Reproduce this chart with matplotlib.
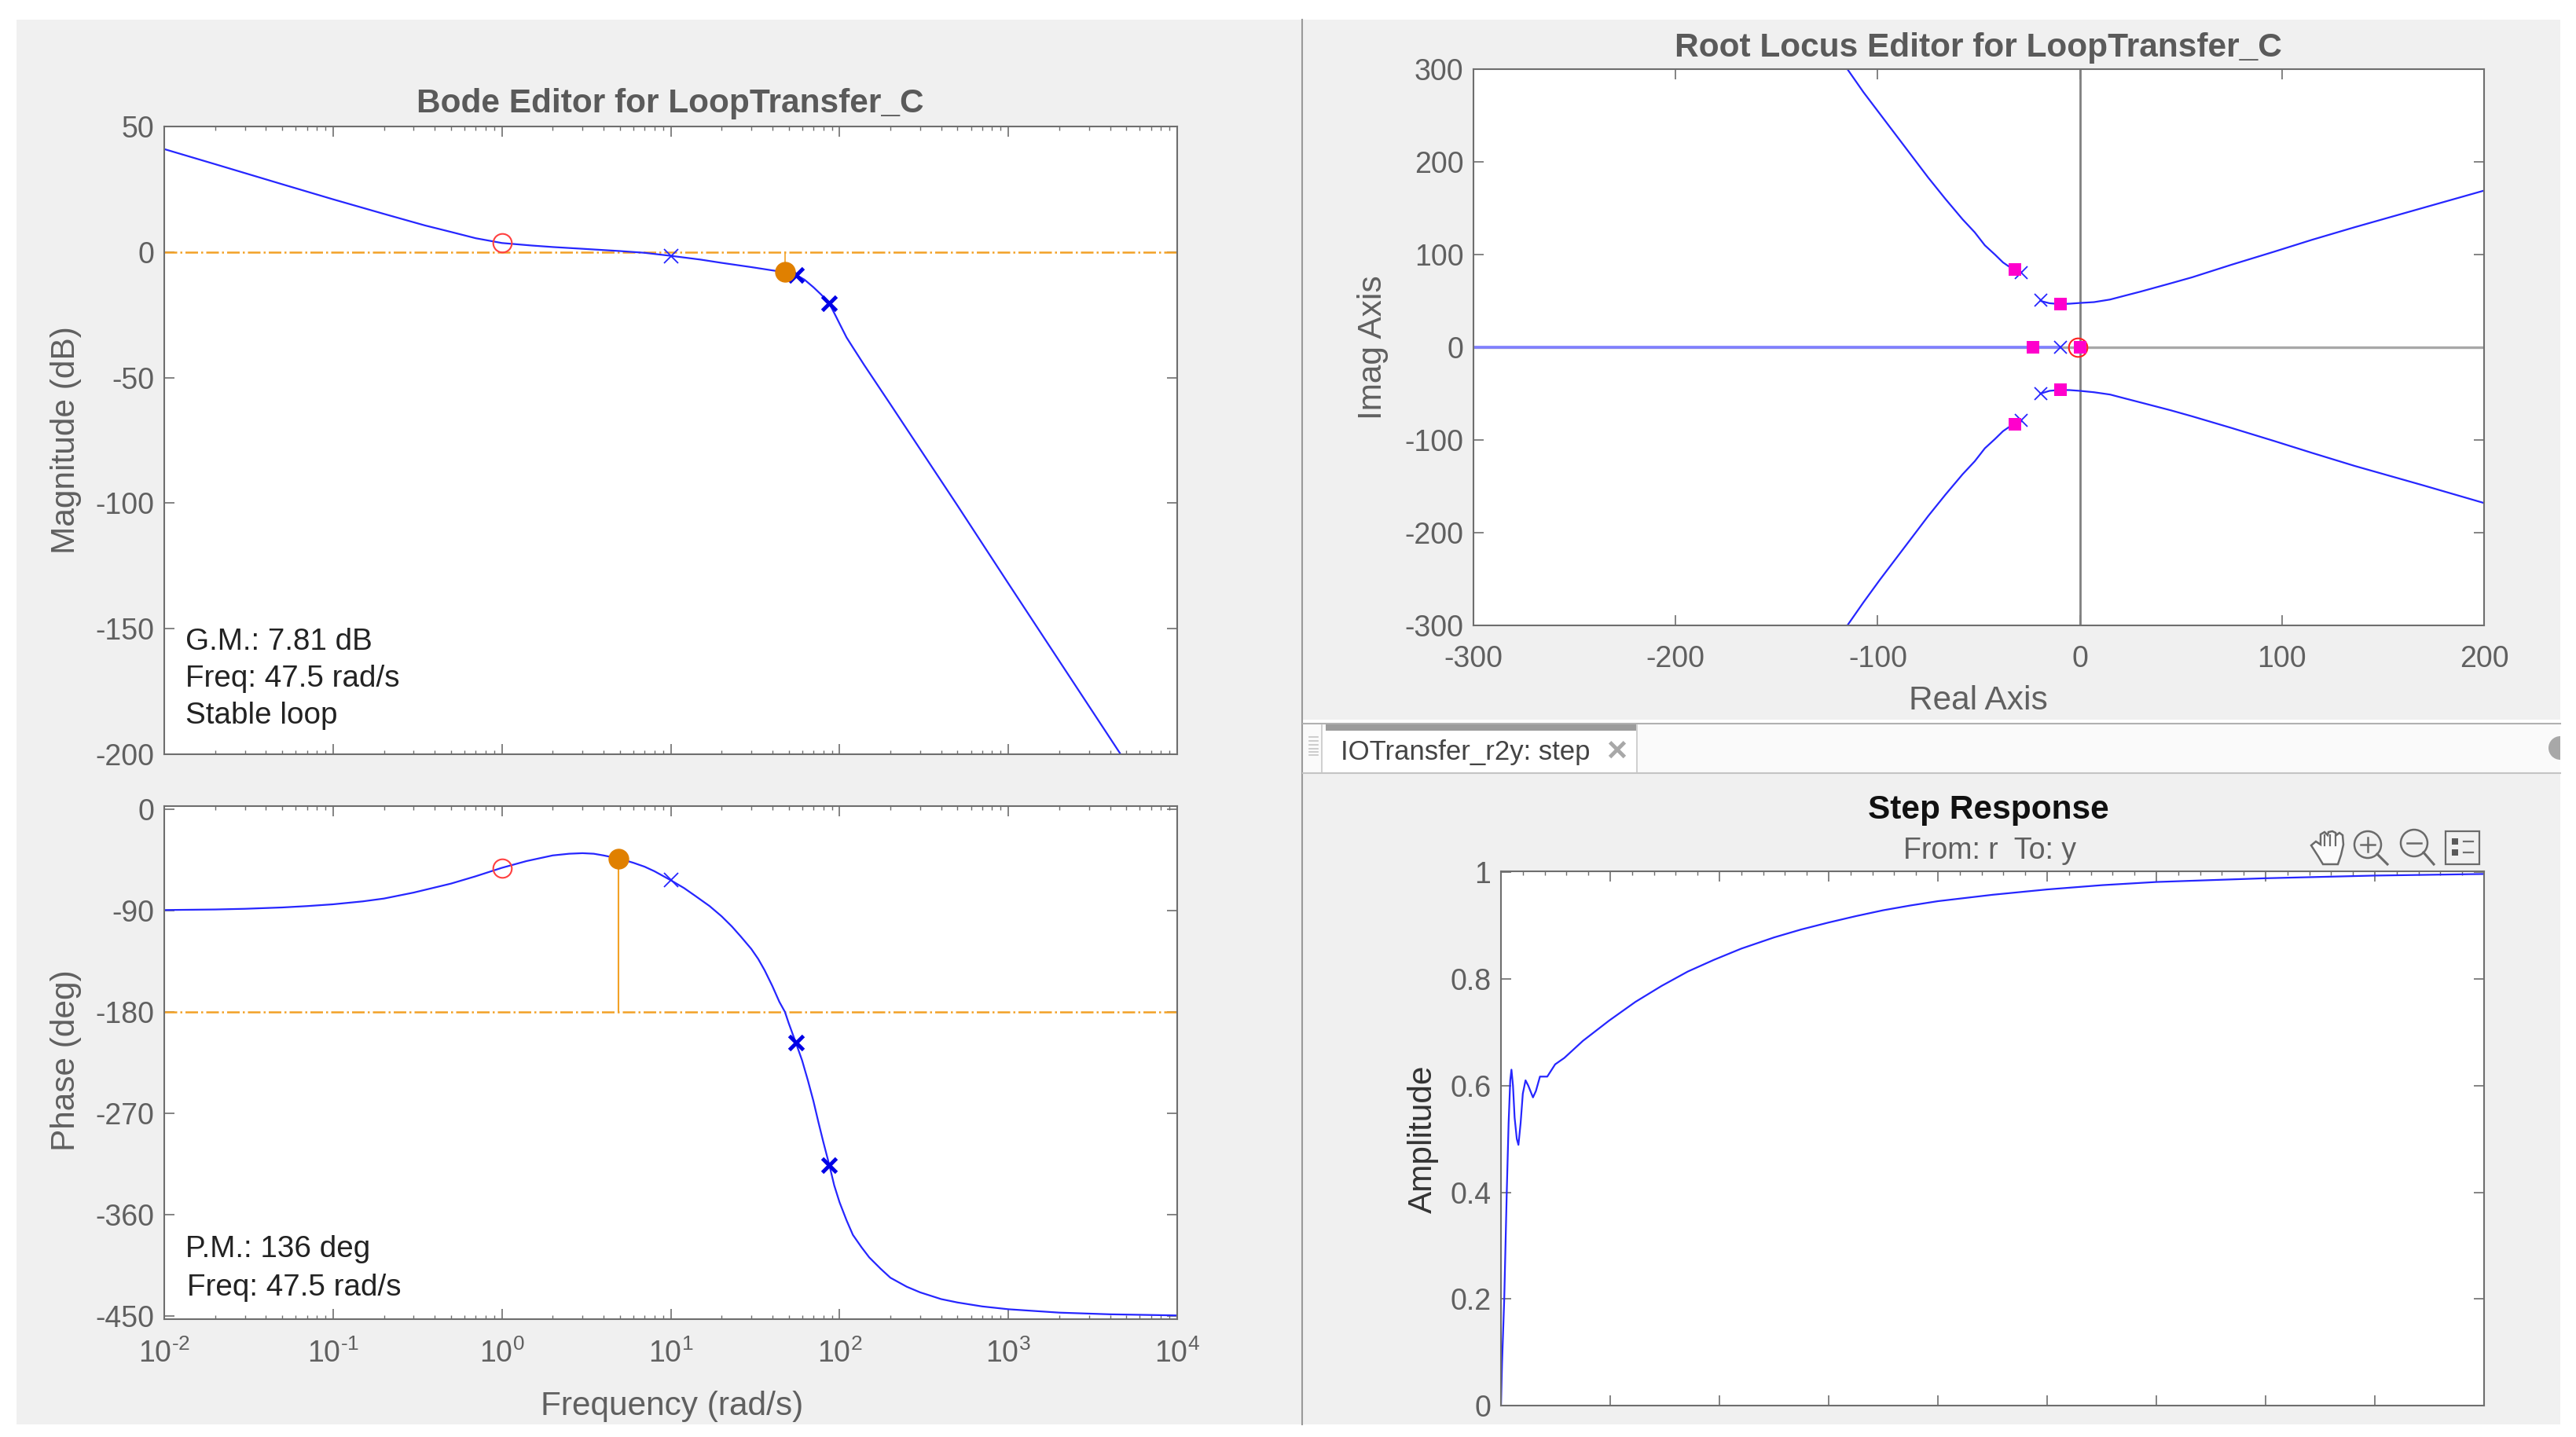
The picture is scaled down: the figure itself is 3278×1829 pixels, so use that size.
import matplotlib
matplotlib.use('Agg')
import matplotlib.pyplot as plt
from matplotlib.patches import Rectangle, Circle, Polygon
from matplotlib.ticker import NullFormatter, LogLocator

plt.rcParams['font.family'] = ['Liberation Sans', 'DejaVu Sans']
plt.rcParams['axes.unicode_minus'] = False
plt.rcParams['mathtext.fontset'] = 'custom'
plt.rcParams['mathtext.rm'] = 'Liberation Sans'
plt.rcParams['mathtext.default'] = 'regular'

W, H = 3278, 1829
PANEL = '#f0f0f0'
AXC = '#6e6e6e'
TXT = '#606060'
BLUE = '#2626ff'
ORANGE = '#f2a126'
DOT = '#e08000'
MAGENTA = '#ff00cc'
FS = 27
FS_LAB = 30.5

# bode magnitude
freq_mag = [0.01, 0.02, 0.05, 0.1, 0.2, 0.35, 0.5, 0.7, 1, 1.5, 2, 3, 5, 7, 10, 15, 20, 30, 40,
            47.5, 55, 62, 70, 78, 87, 95, 100, 110, 120, 140, 200, 500, 1000, 2000, 4624]
mag_db = [41, 35, 27, 21, 15.2, 10.6, 8, 5.5, 3.6, 2.6, 2, 1.3, 0.4, -0.3, -1.5, -3, -4.3, -6, -7.3,
          -8, -9, -11, -14, -17, -20.5, -25.5, -28.5, -34, -38, -45, -60.6, -101, -132, -162.8, -200]
freq_ticks = [0.01, 0.1, 1, 10, 100, 1000, 10000]
freq_labels = ['$10^{\\text{-}2}$', '$10^{\\text{-}1}$', '$10^{0}$', '$10^{1}$', '$10^{2}$', '$10^{3}$', '$10^{4}$']

# bode phase
freq_ph = [0.01, 0.02, 0.03, 0.05, 0.07, 0.1, 0.15, 0.2, 0.3, 0.5, 0.7, 1, 1.4, 2, 2.5, 3, 3.5, 4, 5, 6, 7, 8,
           10, 12, 14, 17, 20, 23, 26, 30, 33, 36, 40, 44, 47.5, 50, 55, 60, 65, 70, 75, 80, 87, 93, 100, 110,
           120, 135, 150, 175, 200, 250, 300, 400, 500, 700, 1000, 2000, 4000, 10000]
phase = [-89.5, -89, -88.4, -87.2, -86, -84.4, -81.8, -79.3, -74, -66, -59.5, -52, -46, -41, -39.5, -39, -39.5,
         -41, -44, -47.5, -51, -55, -63, -70, -77, -86, -95, -104, -113, -124, -133, -143, -157, -171, -180,
         -190, -207, -223, -241, -259, -278, -295, -316, -334, -349, -365, -378, -389, -398, -408, -416, -424,
         -429, -435, -438, -441.5, -444, -447, -448.5, -449.5]

# compensator poles / zeros on the bode plots
zero_w, zero_mag, zero_ph = [1], [3.6], [-52]
pole_w, pole_mag, pole_ph = [10], [-1.5], [-63]
plant_w, plant_mag, plant_ph = [55, 87], [-9, -20.5], [-207, -316]
gm_w, gm_mag = [47.5], [-8]
pm_w, pm_ph = [4.9], [-44]

# root locus branches
up_left_re = [-115, -107, -99, -91, -83, -75, -66.5, -58, -52, -47, -42, -38, -35, -32, -29]
up_left_im = [300, 275, 252, 229, 206, 183, 160, 138, 124, 110, 100, 91.5, 87, 84, 81]
lo_left_re = [-115, -107, -99, -91, -83, -75, -66.5, -58, -52, -47, -42, -38, -35, -32, -29]
lo_left_im = [-300, -275, -251, -228, -205, -182, -159, -137, -123, -109, -99, -90.5, -86, -83, -80]
up_right_re = [-19.5, -15, -10, -5, 0, 7, 15, 22, 30, 45, 55.6, 75, 96, 115, 136, 170, 200]
up_right_im = [50, 47.5, 46.6, 47, 47.8, 48.7, 51.5, 55.5, 60, 69, 75.5, 89, 103, 116, 129.5, 150.5, 169]
lo_right_re = [-19.5, -15, -10, -5, 0, 7, 15, 22, 30, 45, 55.6, 75, 96, 115, 136, 170, 200]
lo_right_im = [-50, -47, -46, -46.2, -47, -48.5, -51, -55, -59.5, -68, -74.5, -87, -101, -114, -128, -149, -168]
real_re = [-300, -10]
real_im = [0, 0]
rl_pole_re = [-29, -19.3, -9.7, -19.3, -29]
rl_pole_im = [80.5, 51, 0, -50, -79]
rl_sq_re = [-32, -9.7, -23, 0, -9.7, -32]
rl_sq_im = [84, 46.6, 0, 0, -46, -83]
rl_zero_re, rl_zero_im = [-1], [0]

# step response
step_t = [0, 0.01, 0.03, 0.053, 0.07, 0.085, 0.096, 0.11, 0.125, 0.145, 0.16, 0.18, 0.2, 0.225, 0.25, 0.293,
          0.32, 0.357, 0.424, 0.496, 0.58, 0.75, 0.99, 1.23, 1.47, 1.71, 1.95, 2.2, 2.5, 2.75, 3, 3.25, 3.5,
          3.75, 4, 4.5, 5, 5.5, 6, 7, 8, 9]
step_y = [0, 0.08, 0.2, 0.4, 0.53, 0.61, 0.63, 0.6, 0.54, 0.5, 0.489, 0.53, 0.585, 0.61, 0.6, 0.578,
          0.59, 0.617, 0.617, 0.64, 0.652, 0.684, 0.722, 0.757, 0.787, 0.814, 0.836, 0.857, 0.878, 0.893,
          0.906, 0.918, 0.929, 0.938, 0.946, 0.958, 0.968, 0.976, 0.982, 0.989, 0.994, 0.997]


def add_ax(l, t, r, b):
    ax = fig.add_axes([l / W, 1 - b / H, (r - l) / W, (b - t) / H])
    for s in ax.spines.values():
        s.set_color(AXC)
        s.set_linewidth(1.5)
    ax.tick_params(axis='both', which='major', direction='in', top=True, right=True,
                   length=9.5, width=1.2, color=AXC, labelcolor=TXT, labelsize=FS, pad=9)
    ax.tick_params(axis='x', which='major', pad=18)
    ax.tick_params(axis='both', which='minor', direction='in', top=True, right=True,
                   length=3.5, width=1, color=AXC)
    return ax


def label(x, y, s, **kw):
    kw.setdefault('fontsize', FS)
    kw.setdefault('color', TXT)
    kw.setdefault('ha', 'center')
    kw.setdefault('va', 'center')
    fig.text(x / W, 1 - y / H, s, **kw)


fig = plt.figure(figsize=(W / 100, H / 100), dpi=100, facecolor='white')

# window chrome, in pixels
bg = fig.add_axes([0, 0, 1, 1], zorder=-1)
bg.set_xlim(0, W)
bg.set_ylim(H, 0)
bg.axis('off')
bg.add_patch(Rectangle((21, 25), 3237, 1788, fc=PANEL, ec='none'))
bg.plot([1657, 1657], [25, 1813], color='#9a9a9a', lw=1.5)
bg.add_patch(Rectangle((1658, 916), 1600, 5, fc='white', ec='none'))
bg.add_patch(Rectangle((1658, 921), 1600, 64, fc='#fafafa', ec='none'))
bg.plot([1658, 3258], [921, 921], color='#b0b0b0', lw=1.5)
bg.plot([1658, 3258], [984, 984], color='#c4c4c4', lw=1.5)
bg.add_patch(Rectangle((1683, 926), 399, 59, fc='white', ec='none'))
bg.add_patch(Rectangle((1687, 921), 395, 9, fc='#9c9c9c', ec='none'))
bg.plot([1682, 1682], [923, 983], color='#c8c8c8', lw=1.2)
bg.plot([2083, 2083], [923, 983], color='#c8c8c8', lw=1.2)
for yy in (938, 943, 948, 953, 957, 961):
    bg.plot([1666, 1677], [yy, yy], color='#c4c4c4', lw=1.2)
bg.add_patch(Circle((3258, 952), 15, fc='#a8a8a8', ec='none'))
bg.add_patch(Rectangle((3258, 930), 20, 50, fc='white', ec='none', zorder=5))

# toolbar icons on the step plot
ICON = '#6a6a6a'
hand_x = [2941, 2947, 2953, 2953, 2958, 2962, 2963, 2968, 2972, 2973, 2977, 2981, 2982, 2979, 2975, 2956, 2950]
hand_y = [1076, 1071, 1075, 1062, 1059, 1063, 1059, 1058, 1060, 1063, 1060, 1063, 1075, 1088, 1100, 1100, 1090]
bg.add_patch(Polygon(list(zip(hand_x, hand_y)), closed=True, fc='#fbfbfb', ec=ICON, lw=1.8))
for fx in (2958, 2965, 2972):
    bg.plot([fx, fx], [1063, 1076], color=ICON, lw=1.6)
for cx, cy, sym in ((3013, 1075, '+'), (3072, 1073, '-')):
    bg.add_patch(Circle((cx, cy), 17, fc='none', ec=ICON, lw=1.8))
    bg.plot([cx + 12, cx + 25], [cy + 12, 1100], color=ICON, lw=2.2)
    bg.plot([cx - 9, cx + 9], [cy, cy], color=ICON, lw=1.8)
    if sym == '+':
        bg.plot([cx, cx], [cy - 9, cy + 9], color=ICON, lw=1.8)
bg.add_patch(Rectangle((3112, 1058), 43, 42, fc='none', ec=ICON, lw=1.6))
for yy in (1071, 1085):
    bg.add_patch(Rectangle((3120, yy - 4), 8, 8, fc='#5a5a5a', ec='none'))
    bg.plot([3135, 3147], [yy, yy], color='#707070', lw=1.6)

# magnitude
ax_mag = add_ax(209, 161, 1498, 960)
ax_mag.set_xscale('log')
ax_mag.set_xlim(0.01, 10000)
ax_mag.set_ylim(-200, 50)
ax_mag.set_yticks([-200, -150, -100, -50, 0, 50])
ax_mag.xaxis.set_major_locator(LogLocator(base=10, numticks=10))
ax_mag.xaxis.set_minor_locator(LogLocator(base=10, subs=range(2, 10), numticks=10))
ax_mag.xaxis.set_major_formatter(NullFormatter())
ax_mag.xaxis.set_minor_formatter(NullFormatter())
ax_mag.axhline(0, color=ORANGE, lw=1.8, ls='-.')
ax_mag.plot(freq_mag, mag_db, color=BLUE, lw=1.6)
ax_mag.plot([gm_w[0], gm_w[0]], [gm_mag[0], 0], color=ORANGE, lw=1.2)
ax_mag.plot(zero_w, zero_mag, 'o', mfc='none', mec='#ff4040', ms=17, mew=1.5)
ax_mag.plot(pole_w, pole_mag, 'x', color=BLUE, ms=13, mew=1.3)
ax_mag.plot(plant_w, plant_mag, 'x', color='#0000e6', ms=13, mew=3.5)
ax_mag.plot(gm_w, gm_mag, 'o', color=DOT, ms=18)

# phase
ax_ph = add_ax(209, 1026, 1498, 1679)
ax_ph.set_xscale('log')
ax_ph.set_xlim(0.01, 10000)
ax_ph.set_ylim(-452.8, 2.8)
ax_ph.set_yticks([-450, -360, -270, -180, -90, 0])
ax_ph.set_xticks(freq_ticks)
ax_ph.set_xticklabels(freq_labels)
ax_ph.xaxis.set_minor_locator(LogLocator(base=10, subs=range(2, 10), numticks=10))
ax_ph.xaxis.set_minor_formatter(NullFormatter())
ax_ph.axhline(-180, color=ORANGE, lw=1.8, ls='-.')
ax_ph.plot(freq_ph, phase, color=BLUE, lw=1.6)
ax_ph.plot([pm_w[0], pm_w[0]], [pm_ph[0], -180], color=ORANGE, lw=1.5)
ax_ph.plot(zero_w, zero_ph, 'o', mfc='none', mec='#ff4040', ms=17, mew=1.5)
ax_ph.plot(pole_w, pole_ph, 'x', color=BLUE, ms=13, mew=1.3)
ax_ph.plot(plant_w, plant_ph, 'x', color='#0000e6', ms=13, mew=3.5)
ax_ph.plot(pm_w, pm_ph, 'o', color=DOT, ms=18)

# root locus
ax_rl = add_ax(1875, 88, 3161, 796)
ax_rl.set_xlim(-300, 200)
ax_rl.set_ylim(-300, 300)
ax_rl.set_xticks([-300, -200, -100, 0, 100, 200])
ax_rl.set_yticks([-300, -200, -100, 0, 100, 200, 300])
ax_rl.axhline(0, color='#a8a8a8', lw=2.4)
ax_rl.axvline(0, color='#808080', lw=2)
ax_rl.plot(real_re, real_im, color='#7f7fff', lw=2.6)
ax_rl.plot(up_left_re, up_left_im, color=BLUE, lw=1.6)
ax_rl.plot(lo_left_re, lo_left_im, color=BLUE, lw=1.6)
ax_rl.plot(up_right_re, up_right_im, color=BLUE, lw=1.6)
ax_rl.plot(lo_right_re, lo_right_im, color=BLUE, lw=1.6)
ax_rl.plot(rl_pole_re, rl_pole_im, 'x', color=BLUE, ms=12, mew=1.3, ls='none')
ax_rl.plot(rl_zero_re, rl_zero_im, 'o', mfc='none', mec='#ff2020', ms=17, mew=1.5)
ax_rl.plot(rl_sq_re, rl_sq_im, 's', color=MAGENTA, ms=11.5, mew=0, ls='none')

# step response
ax_st = add_ax(1910, 1109, 3161, 1789)
ax_st.set_xlim(0, 9)
ax_st.set_ylim(0, 1.002)
ax_st.set_xticks(range(10))
ax_st.set_xticklabels([])
ax_st.set_yticks([0, 0.2, 0.4, 0.6, 0.8, 1])
ax_st.set_yticklabels(['0', '0.2', '0.4', '0.6', '0.8', '1'])
ax_st.minorticks_on()
ax_st.tick_params(axis='y', which='minor', left=False, right=False)
ax_st.tick_params(axis='x', which='minor', bottom=False)
ax_st.plot(step_t, step_y, color=BLUE, lw=1.6)

# titles and labels
label(853, 132, 'Bode Editor for LoopTransfer_C', fontsize=FS_LAB, fontweight='bold', color='#5a5a5a')
label(2517, 61, 'Root Locus Editor for LoopTransfer_C', fontsize=FS_LAB, fontweight='bold', color='#5a5a5a')
label(2530, 1031, 'Step Response', fontsize=FS_LAB, fontweight='bold', color='#111111')
label(2532, 1083, 'From: r  To: y')
label(84, 560, 'Magnitude (dB)', fontsize=FS_LAB, rotation=90)
label(84, 1350, 'Phase (deg)', fontsize=FS_LAB, rotation=90)
label(855, 1790, 'Frequency (rad/s)', fontsize=FS_LAB)
label(1747, 442, 'Imag Axis', fontsize=FS_LAB, rotation=90)
label(2517, 892, 'Real Axis', fontsize=FS_LAB)
label(1811, 1450, 'Amplitude', fontsize=FS_LAB, rotation=90, color='#333333')
label(1865, 958, 'IOTransfer_r2y: step', fontsize=25, color='#444444')
label(2057, 957, '\u00d7', fontsize=32, color='#a8a8a8', fontweight='bold')
for x, y, s in ((236, 817, 'G.M.: 7.81 dB'), (236, 864, 'Freq: 47.5 rad/s'), (236, 911, 'Stable loop'),
                (236, 1590, 'P.M.: 136 deg'), (238, 1639, 'Freq: 47.5 rad/s')):
    label(x, y, s, ha='left', color='#222222', fontsize=27.8)

fig.savefig('out.png', dpi=100)
